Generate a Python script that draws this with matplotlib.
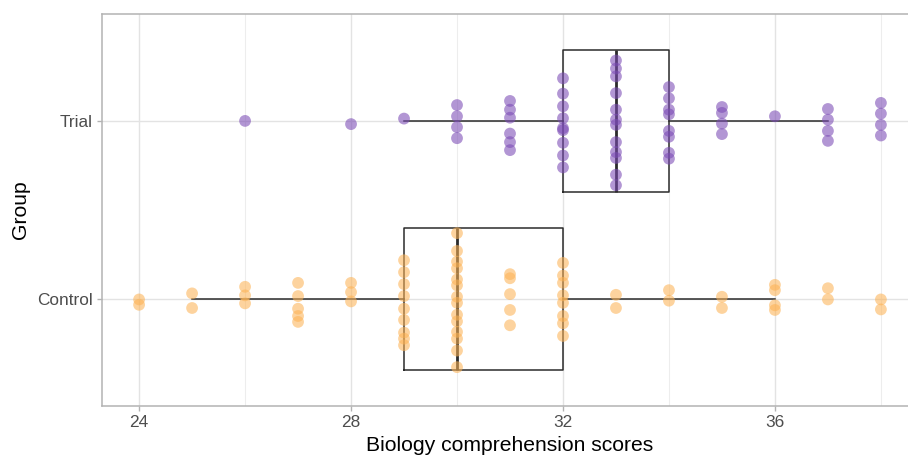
import numpy as np
import matplotlib
matplotlib.use('Agg')
import matplotlib.pyplot as plt

plt.rcParams['font.family'] = ['Liberation Sans', 'DejaVu Sans']

# score levels and the vertical jitter of each point at that level
groups = ['Control', 'Trial']

trial_values = [26, 28, 29, 30, 31, 32, 33, 34, 35, 36, 37, 38]
trial_jitter = [
    [0.0],
    [-0.018],
    [0.013],
    [0.089, 0.026, -0.035, -0.097],
    [0.112, 0.063, 0.018, -0.071, -0.119, -0.164],
    [0.239, 0.153, 0.082, 0.015, -0.041, -0.052, -0.123, -0.194, -0.261],
    [0.339, 0.294, 0.250, 0.156, 0.063, 0.007, -0.022, -0.119, -0.175, -0.208, -0.302, -0.361],
    [0.190, 0.127, 0.063, 0.037, -0.056, -0.089, -0.179, -0.212],
    [0.078, 0.045, -0.015, -0.074],
    [0.026],
    [0.067, 0.007, -0.056, -0.112],
    [0.101, 0.041, -0.022, -0.082],
]

control_values = [24, 25, 26, 27, 28, 29, 30, 31, 32, 33, 34, 35, 36, 37, 38]
control_jitter = [
    [-0.002, -0.032],
    [0.032, -0.050],
    [0.069, 0.021, -0.024],
    [0.091, 0.017, -0.054, -0.095, -0.128],
    [0.091, 0.039, -0.013],
    [0.218, 0.151, 0.084, 0.017, -0.054, -0.117, -0.188, -0.222, -0.259],
    [0.370, 0.270, 0.210, 0.173, 0.110, 0.077, 0.013, -0.021, -0.088, -0.125, -0.184, -0.222, -0.289, -0.382],
    [0.140, 0.117, 0.028, -0.061, -0.147],
    [0.203, 0.132, 0.091, 0.021, -0.021, -0.095, -0.136, -0.207],
    [0.024, -0.050],
    [0.050, -0.009],
    [0.013, -0.050],
    [0.080, 0.050, -0.035, -0.061],
    [0.061, -0.002],
    [-0.002, -0.058],
]

x_ticks = [24, 28, 32, 36]
x_minor = [26, 30, 34, 38]


def expand(values, jitter):
    xs = np.repeat(values, [len(j) for j in jitter]).astype(float)
    ys = np.concatenate([np.array(j) for j in jitter])
    return xs, ys


trial_x, trial_y = expand(trial_values, trial_jitter)
control_x, control_y = expand(control_values, control_jitter)

fig = plt.figure(figsize=(9.08, 4.57), dpi=100)
ax = fig.add_axes([102 / 908, 51 / 457, 816 / 908, 392 / 457])

# grid
for v in x_ticks:
    ax.axvline(v, color='#e3e3e3', lw=1.0, zorder=0)
for v in x_minor:
    ax.axvline(v, color='#ededed', lw=0.8, zorder=0)
for v in [1, 2]:
    ax.axhline(v, color='#e3e3e3', lw=1.0, zorder=0)

line_col = '#2b2b2b'
ax.boxplot([control_x, trial_x], positions=[1, 2], widths=0.8,
           orientation='horizontal', showfliers=False, showcaps=False,
           whis=1.5, patch_artist=False,
           boxprops=dict(color=line_col, lw=1.1),
           whiskerprops=dict(color=line_col, lw=1.1),
           medianprops=dict(color=line_col, lw=2.0),
           zorder=2)

ax.scatter(control_x, 1 + control_y, s=72, color='#fdb355', alpha=0.57,
           edgecolors='none', zorder=3)
ax.scatter(trial_x, 2 + trial_y, s=72, color='#7b4bb5', alpha=0.58,
           edgecolors='none', zorder=3)

ax.set_xlim(23.3, 38.7)
ax.set_ylim(0.4, 2.6)
ax.set_xticks(x_ticks)
ax.set_xticklabels([str(v) for v in x_ticks])
ax.set_yticks([1, 2])
ax.set_yticklabels(groups)

for s in ax.spines.values():
    s.set_color('#b3b3b3')
    s.set_linewidth(1.1)

ax.tick_params(axis='both', colors='#b3b3b3', labelcolor='#4d4d4d',
               labelsize=12.4, length=3.7, width=1.0, pad=3)

ax.set_xlabel('Biology comprehension scores', fontsize=15.2, color='black', labelpad=4)
ax.set_ylabel('Group', fontsize=15.2, color='black', labelpad=5)

fig.savefig('out.png', dpi=100)
